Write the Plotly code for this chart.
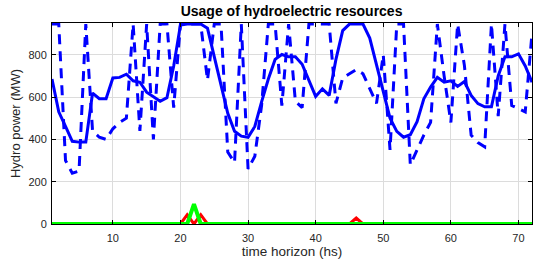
import plotly.graph_objects as go

hours = list(range(1, 73))

hydro_expected = [685, 530, 461, 391, 387, 387, 619, 592, 592, 690, 693, 708,
                  677, 670, 623, 603, 580, 597, 747, 940, 945, 945, 945, 925,
                  793, 654, 523, 438, 415, 410, 461, 577, 685, 778, 801, 790,
                  790, 755, 677, 603, 639, 608, 778, 914, 945, 945, 945, 879,
                  755, 623, 500, 438, 410, 422, 484, 592, 647, 693, 670, 677,
                  650, 673, 608, 569, 554, 554, 700, 790, 790, 804, 747, 670]

hydro_scenario = [945, 945, 300, 240, 250, 945, 440, 410, 400, 450, 480, 500,
                  945, 440, 945, 400, 945, 945, 550, 945, 945, 945, 945, 680,
                  945, 945, 340, 290, 945, 260, 320, 560, 945, 945, 560, 945,
                  580, 550, 945, 945, 945, 945, 570, 690, 710, 730, 710, 640,
                  570, 800, 350, 945, 945, 280, 350, 420, 480, 945, 700, 480,
                  945, 750, 420, 385, 365, 945, 510, 945, 560, 545, 530, 900]

spill_red = [0] * 19 + [0, 44, 0, 44, 0] + [0] * 20 + [0, 28, 0] + [0] * 25
spill_green = [0] * 20 + [0, 94, 0] + [0] * 49

xticks = [10, 20, 30, 40, 50, 60, 70]
yticks = [0, 200, 400, 600, 800]

FONT = "Liberation Sans, Arial, Helvetica, sans-serif"

fig = go.Figure()
fig.add_trace(go.Scatter(x=hours, y=hydro_scenario, mode="lines",
                         line=dict(color="#0000ff", width=3, dash="10px,7px"),
                         showlegend=False, hoverinfo="skip"))
fig.add_trace(go.Scatter(x=hours, y=hydro_expected, mode="lines",
                         line=dict(color="#0000ff", width=3),
                         showlegend=False, hoverinfo="skip"))
fig.add_trace(go.Scatter(x=hours, y=spill_red, mode="lines",
                         line=dict(color="#ff0000", width=3),
                         showlegend=False, hoverinfo="skip"))
fig.add_trace(go.Scatter(x=hours, y=spill_green, mode="lines",
                         line=dict(color="#00ff00", width=4),
                         showlegend=False, hoverinfo="skip"))

axis_common = dict(showline=True, linecolor="black", linewidth=1, mirror="ticks",
                   ticks="inside", ticklen=4, tickcolor="black",
                   showgrid=True, gridcolor="#dcdcdc", gridwidth=1,
                   zeroline=False,
                   tickfont=dict(family=FONT, size=11, color="#262626"))

fig.update_layout(
    width=545, height=266,
    margin=dict(l=52, r=13, t=23, b=40),
    paper_bgcolor="white", plot_bgcolor="white",
    title=dict(text="<b>Usage of hydroelectric resources</b>", x=0.535, xanchor="center",
               y=0.957, yanchor="middle",
               font=dict(family=FONT, size=14, color="black")),
    xaxis=dict(range=[1, 72], tickvals=xticks, ticklabelstandoff=4,
               title=dict(text="time horizon (hs)", standoff=0,
                          font=dict(family=FONT, size=13.5, color="#262626")),
               **axis_common),
    yaxis=dict(range=[0, 950], tickvals=yticks, ticklabelstandoff=2,
               title=dict(text="Hydro power (MW)", standoff=4,
                          font=dict(family=FONT, size=13, color="#262626")),
               **axis_common),
)

fig.write_html("out.html", config={"displayModeBar": False},
               post_script="document.body.style.margin='0';document.body.style.padding='0';")
